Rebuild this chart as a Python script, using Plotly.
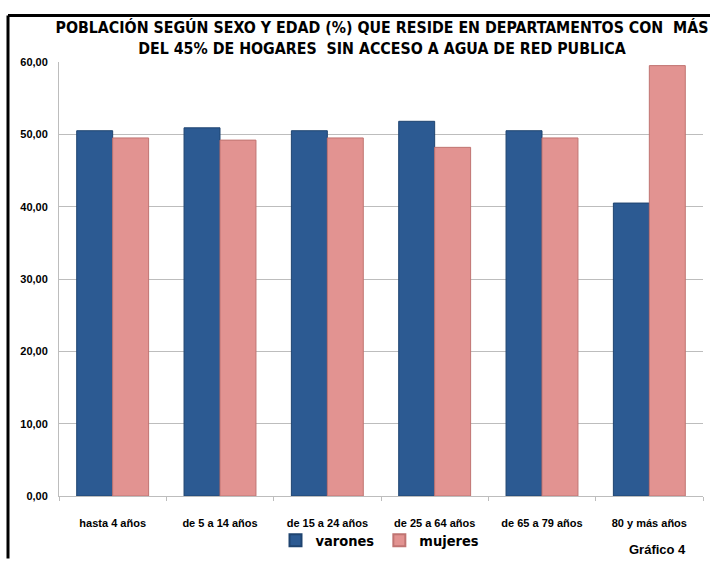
import plotly.graph_objects as go

categories = ["hasta 4 años", "de 5 a 14 años", "de 15 a 24 años", "de 25 a 64 años", "de 65 a 79 años", "80 y más años"]
varones = [50.5, 50.9, 50.5, 51.8, 50.5, 40.5]
mujeres = [49.5, 49.2, 49.5, 48.2, 49.5, 59.5]

title_text = "POBLACIÓN SEGÚN SEXO Y EDAD (%) QUE RESIDE EN DEPARTAMENTOS CON  MÁS<br>DEL 45% DE HOGARES  SIN ACCESO A AGUA DE RED PUBLICA"

W, H = 710, 563
ml, mr, mt, mb = 59, 7, 62, 63
pw, ph = W - ml - mr, H - mt - mb

def px_x(p):
    return (p - ml) / pw

def px_y(p):
    return (H - mb - p) / ph

font_cond = "DejaVu Sans Condensed, Liberation Sans Narrow, Arial Narrow, sans-serif"
font_std = "Liberation Sans, Arial, sans-serif"

fig = go.Figure()
fig.add_trace(go.Bar(
    x=categories, y=varones, name="varones",
    marker=dict(color="#2C5A92", line=dict(color="#1F4470", width=1)),
))
fig.add_trace(go.Bar(
    x=categories, y=mujeres, name="mujeres",
    marker=dict(color="#E29391", line=dict(color="#C07472", width=1)),
))

fig.update_layout(
    width=W, height=H,
    margin=dict(l=ml, r=mr, t=mt, b=mb),
    paper_bgcolor="white", plot_bgcolor="white",
    separators=",.",
    barmode="group", bargap=0.33, bargroupgap=0,
    title=dict(
        text="<b>" + title_text + "</b>",
        x=382 / W, xanchor="center",
        y=1 - 33 / H, yanchor="top",
        font=dict(family=font_cond, size=15.8, color="black"),
    ),
    legend=dict(
        orientation="h", x=px_x(380), xanchor="center",
        y=px_y(561), yanchor="bottom",
        font=dict(family=font_cond, size=14.5, color="black", weight="bold"),
        itemsizing="constant", traceorder="normal",
        itemwidth=30,
        bgcolor="rgba(0,0,0,0)",
    ),
    showlegend=True,
)

fig.update_yaxes(
    range=[0, 60], dtick=10, tickformat=".2f",
    showgrid=True, gridcolor="#BDBDBD", gridwidth=1,
    showline=True, linecolor="#BDBDBD", linewidth=1,
    ticks="", zeroline=False, ticklabelstandoff=8,
    tickfont=dict(family=font_std, size=11, color="black", weight="bold"),
)
fig.update_xaxes(
    showline=True, linecolor="#BDBDBD", linewidth=1,
    ticks="outside", ticklen=4, tickcolor="#BDBDBD", tickson="boundaries",
    ticklabelstandoff=17,
    tickfont=dict(family=font_std, size=11, color="black", weight="bold"),
    showgrid=False,
)

fig.add_annotation(
    text="<b>Gráfico 4</b>", xref="paper", yref="paper",
    x=px_x(688), y=px_y(554), xanchor="right", yanchor="middle",
    showarrow=False, font=dict(family=font_std, size=13, color="black"),
)

# outer black frame (left and top edges)
fig.add_shape(type="line", xref="paper", yref="paper",
              x0=px_x(8), x1=px_x(8), y0=px_y(563), y1=px_y(15),
              line=dict(color="black", width=3))
fig.add_shape(type="line", xref="paper", yref="paper",
              x0=px_x(8), x1=px_x(712), y0=px_y(15), y1=px_y(15),
              line=dict(color="black", width=3))

fig.write_html("out.html")
